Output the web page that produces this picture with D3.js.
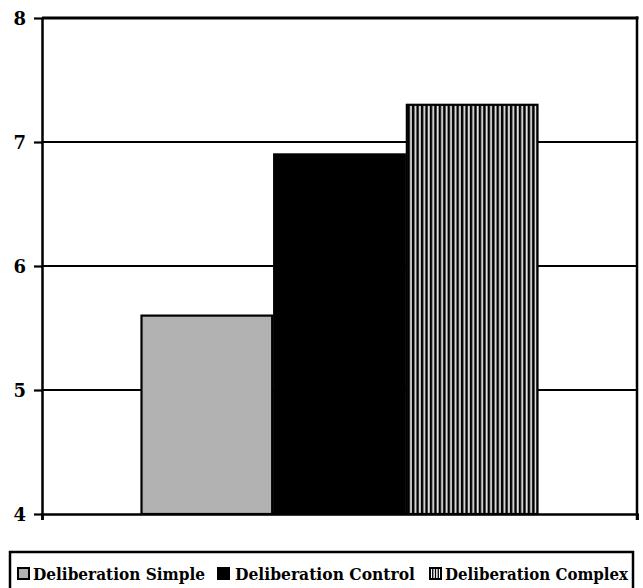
<!DOCTYPE html>
<html><head><meta charset="utf-8">
<script src="https://cdn.jsdelivr.net/npm/d3@7"></script>
<style>body{margin:0;background:#fff}svg{display:block}
.serif{font-family:"DejaVu Serif",serif;font-weight:bold}</style>
</head><body>
<svg id="c" width="643" height="588"></svg>
<script>
const categories = ["Deliberation"];
const seriesNames = ["Deliberation Simple", "Deliberation Control", "Deliberation Complex"];
const seriesValues = [5.6, 6.9, 7.3];
const yTicks = [4, 5, 6, 7, 8];

(function () {
const svg = d3.select("#c");
const mLeft = 42, mRight = 637, mTop = 18, mBottom = 514;
const y = d3.scaleLinear().domain([4, 8]).range([mBottom, mTop]);
const x0 = d3.scaleBand().domain(categories).range([mLeft, mRight]).paddingInner(0).paddingOuter(0.2475);
const x1 = d3.scaleBand().domain(seriesNames).range([0, x0.bandwidth()]);

const defs = svg.append("defs");
const pat = defs.append("pattern").attr("id", "vstripe").attr("patternUnits", "userSpaceOnUse")
  .attr("width", 4.45).attr("height", 10);
pat.append("rect").attr("width", 4.45).attr("height", 10).attr("fill", "#000");
pat.append("rect").attr("x", 0.6).attr("width", 1.9).attr("height", 10).attr("fill", "#e6e6e6");
const fills = ["#b2b2b2", "#000", "url(#vstripe)"];

svg.append("g").selectAll("line").data(yTicks.filter(d => d > 4 && d < 8)).join("line")
  .attr("x1", mLeft).attr("x2", mRight).attr("y1", d => y(d)).attr("y2", d => y(d))
  .attr("stroke", "#000").attr("stroke-width", 2.2);
svg.append("line").attr("x1", mLeft).attr("x2", mRight + 1.5).attr("y1", y(8)).attr("y2", y(8))
  .attr("stroke", "#000").attr("stroke-width", 3);

const g = svg.append("g");
categories.forEach(c => {
  g.selectAll("rect.bar").data(seriesNames).join("rect").attr("class", "bar")
    .attr("x", d => x0(c) + x1(d) + 1)
    .attr("width", x1.bandwidth() - 2)
    .attr("y", (d, i) => y(seriesValues[i]))
    .attr("height", (d, i) => y(4) - y(seriesValues[i]))
    .attr("fill", (d, i) => fills[i])
    .attr("stroke", "#000").attr("stroke-width", 2.2);
});

const ax = svg.append("g").attr("transform", `translate(${mLeft},0)`)
  .call(d3.axisLeft(y).tickValues(yTicks).tickSize(8).tickSizeOuter(0).tickFormat(d3.format("d")));
ax.attr("font-family", null).attr("font-size", null);
ax.select(".domain").attr("stroke-width", 2.5);
ax.selectAll(".tick line").attr("stroke-width", 2.2);
ax.selectAll(".tick text").attr("class", "serif")
  .style("font-size", "18px").attr("fill", "#000").attr("x", -16).attr("dy", "0.36em");

svg.append("line").attr("x1", mRight).attr("x2", mRight).attr("y1", mTop - 1.5).attr("y2", mBottom + 6)
  .attr("stroke", "#000").attr("stroke-width", 2.5);
const bx = svg.append("g").attr("transform", `translate(0,${mBottom})`)
  .call(d3.axisBottom(d3.scaleLinear().domain([0, 1]).range([mLeft, mRight])).tickValues([0, 1]).tickSize(6).tickFormat(""));
bx.select(".domain").attr("stroke-width", 2.5);
bx.selectAll(".tick line").attr("stroke-width", 2.5);

const lg = svg.append("g");
lg.append("rect").attr("x", 10).attr("y", 552).attr("width", 623).attr("height", 50)
  .attr("fill", "#fff").attr("stroke", "#000").attr("stroke-width", 2.5);
const legX = [18, 218, 430];
const legTX = [33, 235, 445];
const legW = [172, 180, 183];
const items = lg.selectAll("g.item").data(seriesNames).join("g").attr("class", "item");
items.append("rect").attr("x", (d, i) => legX[i]).attr("y", 568).attr("width", 11).attr("height", 11)
  .attr("fill", (d, i) => i === 2 ? "#fff" : fills[i]).attr("stroke", "#000").attr("stroke-width", 2);
items.filter((d, i) => i === 2).each(function() {
  const s = d3.select(this);
  [1, 2, 3].forEach(k => s.append("line").attr("x1", legX[2] + 2.75 * k).attr("x2", legX[2] + 2.75 * k)
    .attr("y1", 568).attr("y2", 579).attr("stroke", "#000").attr("stroke-width", 1.3));
});
items.append("text").attr("class", "serif").attr("x", (d, i) => legTX[i]).attr("y", 580)
  .style("font-size", "17.5px").attr("textLength", (d, i) => legW[i]).attr("lengthAdjust", "spacingAndGlyphs")
  .text(d => d);
})();
</script>
</body></html>
